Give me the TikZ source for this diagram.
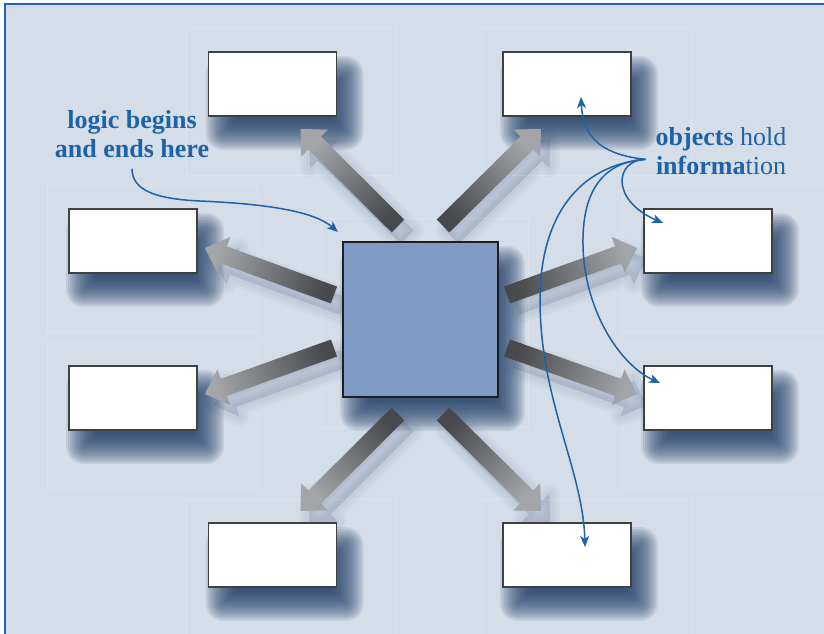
\documentclass[tikz,border=0pt]{standalone}
\usepackage{fontspec}
\setmainfont{Liberation Serif}
\usetikzlibrary{calc,arrows.meta}
\definecolor{bg}{HTML}{D5DDE8}
\definecolor{frame}{HTML}{1F66B0}
\definecolor{ink}{HTML}{1E62A8}
\definecolor{sqfill}{HTML}{7F9AC4}
\definecolor{shd}{HTML}{1C3A64}
\definecolor{arrdark}{HTML}{48494C}
\definecolor{arrlight}{HTML}{A4A5A8}
\pgfdeclarelayer{bglayer}
\pgfdeclarelayer{shadowlayer}
\pgfdeclarelayer{arrowlayer}
\pgfsetlayers{bglayer,shadowlayer,arrowlayer,main}
\tikzset{
  objbox/.style={draw=black!75, line width=1.3pt, fill=white, minimum width=128pt,
    minimum height=64pt, inner sep=0pt, outer sep=0pt},
  sqbox/.style={draw=black!88, line width=1.8pt, fill=sqfill, minimum width=155pt,
    minimum height=155pt, inner sep=0pt, outer sep=0pt},
  lbl/.style={text=ink, align=center, font=\fontsize{26}{29}\selectfont, inner sep=0pt},
  pointer/.style={draw=ink, line width=1.5pt,
    -{Stealth[length=11pt, width=9pt, inset=3pt]}},
  faintline/.style={draw=white, opacity=0.22, line width=0.6pt},
}
\newcommand\softshadow[1]{%
  \foreach \e in {15,13,11,9,7,5,3,1,-1,-3,-5,-7,-9,-11,-13,-15}{%
    \pgfmathsetmacro\rc{max(\e,0)+3}%
    \fill[shd, opacity=0.1, rounded corners=\rc pt]
      ($(#1.north west)+({12-(\e)},{19-(\e)})$) rectangle
      ($(#1.south east)+({12+(\e)},{19+(\e)})$);
  }}
\newcommand\blockarrow[3]{%
  \path (#1) coordinate (bt) (#2) coordinate (bp) ($(bp)!20pt!(bt)$) coordinate (bb);
  \path ($(bt)!9pt!90:(bp)$) coordinate (q1) ($(bb)!9pt!90:(bp)$) coordinate (q2)
        ($(bb)!19pt!90:(bp)$) coordinate (q3) ($(bb)!19pt!-90:(bp)$) coordinate (q5)
        ($(bb)!9pt!-90:(bp)$) coordinate (q6) ($(bt)!9pt!-90:(bp)$) coordinate (q7);
  \begin{scope}[transform canvas={xshift=9pt,yshift=-11pt}]
    \foreach \lw in {20,14,8,2}{%
      \draw[shd, fill, opacity=0.03, line width=\lw pt, line join=round]
        (q1)--(q2)--(q3)--(bp)--(q5)--(q6)--(q7)--cycle;}
  \end{scope}
  \shade[top color=arrlight, bottom color=arrdark, shading angle=#3]
    (q1)--(q2)--(q3)--(bp)--(q5)--(q6)--(q7)--cycle;
}
\begin{document}
\begin{tikzpicture}[x=1pt,y=-1pt]
\useasboundingbox (0,0) rectangle (824,634);
% boxes
\node[objbox] (tl) at (272.5,84) {};
\node[objbox] (tr) at (567,84) {};
\node[objbox] (lu) at (133,241) {};
\node[objbox] (ru) at (708,241) {};
\node[objbox] (ll) at (133,398) {};
\node[objbox] (rl) at (708,398) {};
\node[objbox] (bl) at (272.5,555) {};
\node[objbox] (br) at (567,555) {};
\node[sqbox] (sq) at (420.5,319.5) {};
% background
\begin{pgfonlayer}{bglayer}
  \fill[white] (0,0) rectangle (824,634);
  \fill[bg] (5,4.5) rectangle (824,634);
  \draw[frame, line width=2.2pt] (5.2,634) -- (5.2,4.3) -- (824,4.3);
  \foreach \n in {tl,tr,lu,ru,ll,rl,bl,br}{%
    \draw[faintline] ($(\n.north west)+(-22,-24)$) rectangle ($(\n.south east)+(60,59)$);}
  \draw[faintline] ($(sq.north west)+(-22,-24)$) rectangle ($(sq.south east)+(30,30)$);
\end{pgfonlayer}
\begin{pgfonlayer}{shadowlayer}
  \foreach \n in {tl,tr,lu,ru,ll,rl,bl,br,sq}{\softshadow{\n}}
\end{pgfonlayer}
% arrow ends
\coordinate (tUL) at ($(sq.center)+(-22.5,-93.5)$);
\coordinate (tUR) at ($(sq.center)+(22.5,-93.5)$);
\coordinate (tLU) at ($(sq.center)+(-86.5,-24.5)$);
\coordinate (tRU) at ($(sq.center)+(86.5,-24.5)$);
\coordinate (tLL) at ($(sq.center)+(-86.5,28.5)$);
\coordinate (tRL) at ($(sq.center)+(86.5,28.5)$);
\coordinate (tDL) at ($(sq.center)+(-22.5,94.5)$);
\coordinate (tDR) at ($(sq.center)+(22.5,94.5)$);
\coordinate (pUL) at ($(tl.center)+(28,45)$);
\coordinate (pUR) at ($(tr.center)+(-26,45)$);
\coordinate (pLU) at ($(lu.center)+(72,7)$);
\coordinate (pRU) at ($(ru.center)+(-71,7)$);
\coordinate (pLL) at ($(ll.center)+(72,-4)$);
\coordinate (pRL) at ($(rl.center)+(-71,-4)$);
\coordinate (pDL) at ($(bl.center)+(28,-44)$);
\coordinate (pDR) at ($(br.center)+(-26,-44)$);
\begin{pgfonlayer}{arrowlayer}
  \blockarrow{tUL}{pUL}{45}
  \blockarrow{tUR}{pUR}{-45}
  \blockarrow{tLU}{pLU}{70}
  \blockarrow{tRU}{pRU}{-70}
  \blockarrow{tLL}{pLL}{110}
  \blockarrow{tRL}{pRL}{-110}
  \blockarrow{tDL}{pDL}{135}
  \blockarrow{tDR}{pDR}{-135}
\end{pgfonlayer}
% labels
\node[lbl, anchor=north] (logic) at (132,110) {\textbf{logic begins}\\\textbf{and ends here}};
\node[lbl, anchor=north] (obj) at (721,127) {\textbf{objects} hold\\\textbf{informa}tion};
% pointers
\coordinate (ls) at ($(logic.south)+(0,11)$);
\coordinate (le) at ($(sq.north west)+(-5,-10)$);
\draw[pointer] (ls) .. controls (132,190) and (155,199) .. (200,201)
  .. controls (270,204) and (315,212) .. (le);
\coordinate (o) at ($(obj.west)+(-10,8.5)$);
\coordinate (ea) at ($(tr.south)+(14,-19)$);
\coordinate (eb) at ($(ru.north west)+(19,14)$);
\coordinate (ec) at ($(rl.north west)+(16,17)$);
\coordinate (ed) at ($(br.north)+(18,24)$);
\draw[pointer] (o) .. controls (605,155) and (583,140) .. (ea);
\draw[pointer] (o) .. controls (615,160) and (610,200) .. (eb);
\draw[pointer] (o) .. controls (600,162) and (582,195) .. (583,245)
  .. controls (584,310) and (620,365) .. (ec);
\draw[pointer] (o) .. controls (580,165) and (540,215) .. (540,300)
  .. controls (540,400) and (583,470) .. (ed);
\end{tikzpicture}
\end{document}
